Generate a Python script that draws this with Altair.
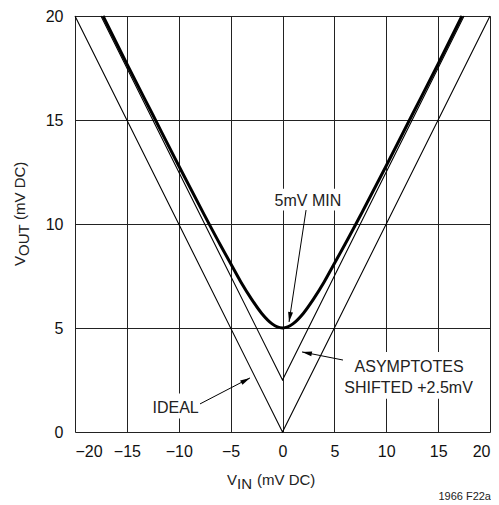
import altair as alt
import pandas as pd

FONT = "Liberation Sans, Arial, Helvetica, sans-serif"

x_ticks = [-20, -15, -10, -5, 0, 5, 10, 15, 20]
y_ticks = [0, 5, 10, 15, 20]

ideal_x = [-20, 0, 20]
ideal_y = [20, 0, 20]
shift_x = [-17.5, 0, 17.5]
shift_y = [20, 2.5, 20]
curve_x = [-17.3, -15, -12.5, -10, -7.5, -6, -5, -4, -3, -2, -1, -0.5, 0,
           0.5, 1, 2, 3, 4, 5, 6, 7.5, 10, 12.5, 15, 17.3]
curve_y = [20.0, 17.7, 15.25, 12.8, 10.4, 9.0, 8.1, 7.2, 6.4, 5.7, 5.2, 5.05, 5.0,
           5.05, 5.2, 5.7, 6.4, 7.2, 8.1, 9.0, 10.4, 12.8, 15.25, 17.7, 20.0]

label_text = ["5mV MIN", "IDEAL", "ASYMPTOTES", "SHIFTED +2.5mV"]
label_x = [2.45, -10.3, 12.2, 12.15]
label_y = [10.87, 0.91, 2.88, 1.88]

box_x1 = [-1.2, -12.8, 5.5]
box_x2 = [6.2, -7.9, 18.8]
box_y1 = [10.65, 0.65, 1.6]
box_y2 = [11.7, 1.85, 3.85]

arrow_x1 = [2.27, -7.95, 5.83]
arrow_y1 = [10.67, 1.35, 3.46]
arrow_x2 = [0.63, -3.13, 1.88]
arrow_y2 = [5.29, 2.6, 3.85]
arrow_angle = [189, 62, 281]

xs = alt.Scale(domain=[-20, 20], nice=False, zero=False)
ys = alt.Scale(domain=[0, 20], nice=False, zero=False)

xax = alt.Axis(values=x_ticks, ticks=False, domain=False, grid=True, gridColor="#222",
               gridWidth=1, labelFont=FONT, labelFontSize=16, labelColor="#111",
               labelPadding=11, title=None)
yax = alt.Axis(values=y_ticks, ticks=False, domain=False, grid=True, gridColor="#222",
               gridWidth=1, labelFont=FONT, labelFontSize=16, labelColor="#111",
               labelPadding=12, title=None)

def line_layer(xv, yv, width, interp="linear"):
    df = pd.DataFrame({"x": xv, "y": yv})
    return alt.Chart(df).mark_line(color="black", strokeWidth=width, interpolate=interp).encode(
        x=alt.X("x:Q", scale=xs, axis=xax),
        y=alt.Y("y:Q", scale=ys, axis=yax),
        order="x:Q",
    )

ideal = line_layer(ideal_x, ideal_y, 1.1)
shifted = line_layer(shift_x, shift_y, 1.1)
curve = line_layer(curve_x, curve_y, 3, "monotone")

boxes = alt.Chart(pd.DataFrame({"x1": box_x1, "x2": box_x2, "y1": box_y1, "y2": box_y2})).mark_rect(
    color="white").encode(
    x=alt.X("x1:Q", scale=xs, axis=xax), x2="x2:Q",
    y=alt.Y("y1:Q", scale=ys, axis=yax), y2="y2:Q")

adf = pd.DataFrame({"x1": arrow_x1, "y1": arrow_y1, "x2": arrow_x2, "y2": arrow_y2, "a": arrow_angle})
shafts = alt.Chart(adf).mark_rule(color="black", strokeWidth=1).encode(
    x=alt.X("x1:Q", scale=xs, axis=xax), x2="x2:Q",
    y=alt.Y("y1:Q", scale=ys, axis=yax), y2="y2:Q")
heads = alt.Chart(adf).mark_point(shape="M0,0L-0.55,2.2L0.55,2.2Z", filled=True, color="black",
                                  size=81, opacity=1).encode(
    x=alt.X("x2:Q", scale=xs, axis=xax),
    y=alt.Y("y2:Q", scale=ys, axis=yax),
    angle=alt.Angle("a:Q", scale=None))

labels = alt.Chart(pd.DataFrame({"t": label_text, "x": label_x, "y": label_y})).mark_text(
    font=FONT, fontSize=16, color="#222", align="center", baseline="alphabetic").encode(
    x=alt.X("x:Q", scale=xs, axis=xax),
    y=alt.Y("y:Q", scale=ys, axis=yax),
    text="t:N")

one = pd.DataFrame({"a": [0]})

def txt(s, x, y, size=15, angle=0, align="left"):
    kw = dict(font=FONT, fontSize=size, color="#222", align=align, baseline="alphabetic", x=x, y=y)
    if angle:
        kw["angle"] = angle
    return alt.Chart(one).mark_text(**kw).encode(text=alt.value(s))

titles = [
    txt("V", 152, 469),
    txt("IN", 162, 473),
    txt("(mV DC)", 182, 469),
    txt("V", -50, 250, angle=270),
    txt("OUT", -46, 240, angle=270),
    txt("(mV DC)", -50, 204, angle=270),
    txt("1966 F22a", 416, 484, size=11, align="right"),
]

chart = alt.layer(boxes, ideal, shifted, curve, shafts, heads, labels, *titles).properties(
    width=415, height=416,
    autosize=alt.AutoSizeParams(type="none"),
    padding={"left": 67, "top": 8, "right": 1, "bottom": 72},
).configure_view(stroke="black", strokeWidth=2).configure(background="white")

chart.save("out.html", embed_options={"renderer": "svg", "actions": False})
